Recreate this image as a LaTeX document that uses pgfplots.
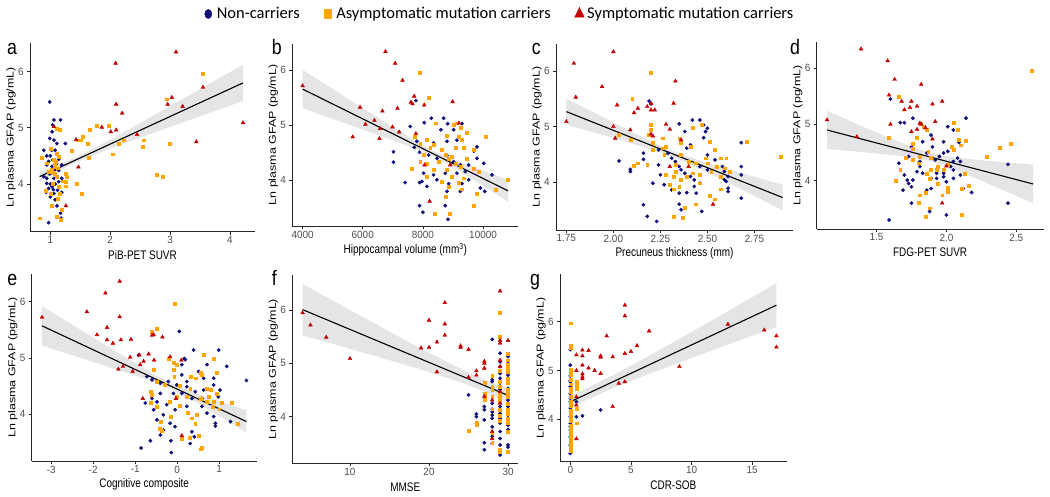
\documentclass[border=0pt]{standalone}
\usepackage{pgfplots}
\pgfplotsset{compat=1.18}
\usepackage{fontspec}
\setmainfont{Liberation Sans}
\newfontfamily\carlito{Carlito}
\definecolor{ncblue}{HTML}{10107A}
\definecolor{asorange}{HTML}{FFA500}
\definecolor{syred}{HTML}{C40000}
\definecolor{ribbon}{HTML}{BDBDBD}
\definecolor{ticklab}{HTML}{4D4D4D}
\pgfplotsset{
  panel/.style={
    scale only axis,
    anchor=south west,
    axis x line*=bottom, axis y line*=left,
    axis line style={-, line width=0.8bp, black!85},
    tick align=outside,
    major tick length=3bp,
    tick style={line width=0.6bp, black!85},
    scaled x ticks=false, scaled y ticks=false,
    /pgf/number format/assume math mode=true,
    /pgf/number format/set thousands separator={},
    tick label style={font=\fontsize{10.5}{11}\selectfont, text=ticklab, xscale=0.95},
    xticklabel style={inner sep=1.5bp},
    every axis x label/.style={at={(axis description cs:0.5,0)}, yshift=-23.5bp, anchor=center, font=\fontsize{12.5}{14}\selectfont, xscale=0.8},
    every axis y label/.style={at={(axis description cs:0,0.5)}, xshift=-19bp, rotate=90, yscale=0.8, anchor=center, font=\fontsize{12.5}{14}\selectfont},
    ylabel={Ln plasma GFAP (pg/mL)},
    ytick={4,5,6},
    clip=false,
  },
  nc/.style={only marks, mark=*, mark size=1.7bp, ncblue, forget plot},
  am/.style={only marks, mark=square*, mark size=1.45bp, asorange, forget plot},
  sm/.style={only marks, mark=triangle*, mark size=2.2bp, syred, forget plot},
  rib/.style={draw=none, fill=ribbon, fill opacity=0.4, forget plot},
  fit/.style={black, line width=1.1bp, no marks, forget plot},
}
\begin{document}
\begin{tikzpicture}
\useasboundingbox (0,0) rectangle (1050bp,497bp);

% ---------------- a ----------------
\begin{axis}[panel, at={(30bp,265.3bp)}, width=225bp, height=188.7bp,
  xmin=0.66, xmax=4.42, ymin=3.15, ymax=6.51, xtick={1,2,3,4},
  xlabel={PiB-PET SUVR},
  legend style={at={(axis description cs:2.089,1.1537)}, anchor=center, draw=none, fill=none,
    font=\carlito\fontsize{16.5}{18}\selectfont, legend columns=3,
    /tikz/every even column/.append style={column sep=22bp}},
  legend cell align=left,
  legend image code/.code={\draw[mark repeat=2,mark phase=2,#1] plot coordinates {(0bp,0bp) (5bp,0bp) (10bp,0bp)};}]
\addlegendimage{only marks, mark=*, mark size=4.6bp, ncblue, mark options={xscale=0.78}}
\addlegendentry{\hspace{3bp}Non-carriers}
\addlegendimage{only marks, mark=square*, mark size=4.4bp, asorange, mark options={xscale=0.85}}
\addlegendentry{\hspace{3bp}Asymptomatic mutation carriers}
\addlegendimage{only marks, mark=triangle*, mark size=6.5bp, syred, mark options={xscale=0.85}}
\addlegendentry{\hspace{1bp}Symptomatic mutation carriers}
\addplot[nc] coordinates {(0.99,5.46) (1.06,5.14) (1.17,5.14) (1.04,5.05) (1.03,4.93) (0.99,4.81) (1.06,4.78) (1.11,4.72) (1.25,4.72) (0.89,4.60) (1.08,4.60) (0.94,4.50) (1.00,4.50) (1.04,4.43) (1.14,4.44) (0.97,4.40) (0.94,4.34) (1.19,4.34) (1.03,4.31) (1.08,4.26) (0.99,4.18) (1.14,4.24) (1.06,4.10) (1.19,4.10) (0.94,4.10) (1.00,4.00) (1.08,4.00) (1.03,3.95) (0.97,3.92) (1.12,3.89) (0.93,3.85) (1.06,3.83) (1.19,3.85) (1.00,3.77) (1.08,3.72) (1.11,3.61) (1.17,3.48) (1.18,3.39) (0.97,3.31) (0.89,4.13) (1.14,4.04) (0.94,4.01) (1.02,4.60) (1.10,4.36) (1.05,3.90)};
\addplot[am] coordinates {(3.55,5.97) (2.95,5.51) (1.78,5.03) (1.98,5.04) (1.66,4.97) (1.54,4.84) (1.50,4.78) (1.45,4.78) (1.62,4.72) (2.14,4.71) (2.22,4.78) (3.00,4.71) (2.55,4.66) (2.56,4.78) (1.36,4.59) (1.64,4.47) (2.04,4.53) (2.77,4.16) (2.88,4.13) (1.44,4.01) (1.53,3.82) (1.25,4.19) (1.28,4.13) (1.25,4.04) (1.25,3.96) (0.82,3.39) (0.86,4.46) (0.92,3.88) (1.02,3.61) (1.18,3.37) (1.11,3.42) (1.19,3.54) (1.00,4.63) (1.06,4.43) (1.08,4.34) (1.03,4.25) (1.07,4.19) (1.11,4.13) (1.04,4.01) (1.14,3.95) (1.13,3.74) (1.16,3.82) (1.00,3.83) (0.97,4.22) (1.10,4.54) (1.16,4.96) (1.10,4.99) (0.94,4.37) (1.14,4.49) (1.07,4.31) (1.09,4.40) (1.12,4.28) (1.05,4.20) (1.20,4.05)};
\addplot[sm] coordinates {(3.10,6.35) (2.09,6.15) (3.55,5.72) (3.03,5.54) (2.96,5.42) (2.10,5.42) (3.21,5.38) (2.20,5.26) (1.86,5.01) (2.10,4.96) (2.01,4.93) (2.45,4.88) (1.43,4.79) (1.06,5.02) (3.44,4.75) (4.22,5.09) (1.47,4.30) (1.26,3.61)};
\addplot[rib] coordinates {(0.82,4.216) (1.1,4.327) (1.45,4.484) (2,4.787) (2.5,5.085) (3,5.385) (3.5,5.688) (4.22,6.124) (4.22,5.476) (3.5,5.204) (3,5.015) (2.5,4.825) (2,4.631) (1.45,4.394) (1.1,4.207) (0.82,4.044)};
\addplot[fit] coordinates {(0.82,4.13) (4.22,5.80)};
\end{axis}

% ---------------- b ----------------
\begin{axis}[panel, at={(292.3bp,271bp)}, width=226bp, height=182bp,
  xmin=3658, xmax=11172, ymin=3.16, ymax=6.47, xtick={4000,6000,8000,10000},
  xticklabels={4000,6000,8000,10000},
  xlabel={Hippocampal volume (mm\textsuperscript{3})}]
\addplot[nc] coordinates {(7767,5.44) (8044,5.04) (8278,5.12) (8689,5.12) (8822,5.02) (9300,5.02) (9022,4.91) (8600,4.91) (7578,4.97) (7022,4.51) (7022,4.32) (7411,3.95) (7711,4.59) (7889,4.50) (8189,4.45) (8467,4.39) (8800,4.44) (9022,4.33) (9244,4.27) (9522,4.27) (9800,4.39) (10022,4.30) (9800,4.60) (9689,4.52) (9411,4.15) (9133,4.12) (8744,4.12) (8356,4.09) (8022,4.12) (7967,3.97) (8467,4.00) (8856,3.93) (9300,3.93) (9522,4.00) (9911,3.85) (10056,3.79) (10300,4.09) (9244,3.79) (8800,3.79) (8133,3.88) (7889,3.95) (7889,3.53) (8000,3.41) (8744,3.53) (8833,3.28) (8800,4.70) (9133,4.72) (8356,4.67) (7800,4.70)};
\addplot[am] coordinates {(7889,5.95) (8189,5.50) (8411,5.03) (9022,5.00) (9133,5.03) (9244,4.94) (10089,4.78) (9467,4.85) (8800,4.80) (9189,4.78) (8133,4.73) (9300,4.73) (7722,4.79) (7911,4.65) (8356,4.64) (9356,4.58) (9689,4.55) (8633,4.55) (8244,4.58) (8022,4.45) (8744,4.45) (8856,4.39) (8967,4.42) (9467,4.39) (7911,4.33) (8522,4.33) (8133,4.30) (9078,4.30) (9244,4.24) (9689,4.21) (9856,4.15) (8356,4.19) (8800,4.18) (7633,4.21) (8967,4.06) (9356,4.03) (8133,4.06) (8633,3.97) (9189,3.94) (9300,3.83) (8856,3.88) (10411,3.82) (9800,3.75) (8744,3.70) (10830,4.00) (9678,3.53) (8378,3.39) (8889,3.38) (9078,4.58)};
\addplot[sm] coordinates {(4000,5.71) (6755,6.33) (7078,6.12) (7322,5.81) (5911,5.32) (7155,5.30) (7711,5.52) (7600,5.41) (7655,5.38) (8044,5.36) (8989,5.42) (6655,5.25) (6389,5.08) (6089,5.01) (6578,4.93) (6555,4.75) (5667,4.78) (6989,4.96) (7211,4.87) (7767,4.84) (9200,5.03) (8222,3.61) (8055,4.27) (8911,4.27)};
\addplot[rib] coordinates {(4000,6.00) (5000,5.652) (6000,5.305) (7000,4.961) (8000,4.629) (8400,4.512) (9000,4.369) (10000,4.166) (10830,4.00) (10830,3.60) (10000,3.894) (9000,4.231) (8400,4.412) (8000,4.511) (7000,4.719) (6000,4.915) (5000,5.108) (4000,5.30)};
\addplot[fit] coordinates {(4000,5.65) (10830,3.80)};
\end{axis}

% ---------------- c ----------------
\begin{axis}[panel, at={(556bp,267bp)}, width=237bp, height=186bp,
  xmin=1.695, xmax=2.955, ymin=3.135, ymax=6.49, xtick={1.75,2,2.25,2.5,2.75},
  xticklabels={1.75,2.00,2.25,2.50,2.75},
  xlabel={Precuneus thickness (mm)}]
\addplot[nc] coordinates {(2.19,5.46) (2.20,5.41) (2.42,5.12) (2.46,5.12) (2.48,5.03) (2.50,4.97) (2.49,4.91) (2.38,4.91) (2.35,5.05) (2.48,4.80) (2.41,4.67) (2.39,4.61) (2.68,4.71) (2.03,4.38) (2.09,4.23) (2.09,4.19) (2.16,4.52) (2.16,4.41) (2.24,4.31) (2.25,4.13) (2.24,4.58) (2.29,4.52) (2.31,4.43) (2.33,4.37) (2.35,4.28) (2.36,4.22) (2.38,4.16) (2.41,4.10) (2.43,4.04) (2.46,4.28) (2.50,4.22) (2.50,4.49) (2.54,4.40) (2.58,4.28) (2.59,4.19) (2.61,4.10) (2.59,4.04) (2.60,4.01) (2.61,3.89) (2.61,3.83) (2.68,4.28) (2.68,4.13) (2.68,3.71) (2.43,3.92) (2.46,3.98) (2.39,3.81) (2.35,3.80) (2.27,3.95) (2.31,3.86) (2.16,3.59) (2.18,3.38) (2.23,3.29) (2.21,3.98) (2.35,3.60) (2.36,3.50) (2.47,3.47) (2.44,3.80)};
\addplot[am] coordinates {(2.20,5.97) (2.10,5.51) (2.20,5.03) (2.20,4.95) (2.19,4.85) (2.03,4.85) (2.09,4.76) (2.11,4.29) (2.18,4.32) (2.21,4.71) (2.21,4.58) (2.26,4.79) (2.28,4.64) (2.26,4.61) (2.27,4.49) (2.35,4.79) (2.36,4.71) (2.36,4.49) (2.41,4.64) (2.42,4.98) (2.47,5.03) (2.51,4.73) (2.54,4.58) (2.57,4.43) (2.60,4.43) (2.71,4.73) (2.89,4.46) (2.49,4.43) (2.50,4.34) (2.44,4.34) (2.40,4.37) (2.33,4.31) (2.33,4.19) (2.32,4.10) (2.36,4.05) (2.39,4.10) (2.42,4.16) (2.46,4.13) (2.52,4.19) (2.55,4.28) (2.59,4.25) (2.62,4.19) (2.57,4.10) (2.46,3.98) (2.51,3.75) (2.54,3.69) (2.57,3.87) (2.30,3.95) (2.32,3.87) (2.35,3.92) (2.38,3.53) (2.32,3.38) (2.37,3.36) (2.44,3.60) (2.13,4.34) (2.28,4.13)};
\addplot[sm] coordinates {(1.75,5.09) (1.79,6.14) (1.80,5.53) (1.94,5.72) (2.00,6.35) (2.02,5.39) (2.00,5.00) (2.01,4.79) (2.13,5.33) (2.11,5.25) (2.18,5.36) (2.20,5.30) (2.22,5.30) (2.20,5.42) (2.09,4.94) (2.20,4.86) (2.21,4.83) (2.28,5.04) (2.30,4.95) (2.33,5.82) (2.32,5.42) (2.36,4.76) (2.30,4.28) (2.40,4.28) (2.53,3.60)};
\addplot[rib] coordinates {(1.75,5.505) (1.9,5.246) (2.05,4.988) (2.2,4.735) (2.33,4.538) (2.5,4.343) (2.65,4.193) (2.75,4.096) (2.9,3.951) (2.9,3.489) (2.75,3.748) (2.65,3.921) (2.5,4.175) (2.33,4.438) (2.2,4.591) (2.05,4.744) (1.9,4.89) (1.75,5.035)};
\addplot[fit] coordinates {(1.75,5.27) (2.9,3.72)};
\end{axis}

% ---------------- d ----------------
\begin{axis}[panel, at={(816.7bp,268bp)}, width=226.8bp, height=187.3bp,
  xmin=1.073, xmax=2.694, ymin=3.14, ymax=6.47, xtick={1.5,2,2.5},
  xticklabels={1.5,2.0,2.5},
  xlabel={FDG-PET SUVR}]
\addplot[nc] coordinates {(1.60,5.45) (1.76,5.11) (2.14,5.11) (1.67,5.03) (1.70,5.03) (2.01,4.96) (2.05,4.90) (2.09,4.68) (1.98,4.69) (1.89,4.81) (1.83,4.69) (1.75,4.60) (1.66,4.31) (1.73,4.43) (1.81,4.34) (1.86,4.49) (1.90,4.60) (1.92,4.37) (1.95,4.43) (1.98,4.49) (2.01,4.52) (2.05,4.34) (2.08,4.40) (2.10,4.34) (2.05,4.19) (2.03,4.25) (1.98,4.13) (1.93,4.13) (1.89,4.04) (1.83,4.13) (1.81,4.25) (1.93,4.04) (1.98,4.07) (2.00,3.98) (2.05,4.04) (2.10,4.10) (2.12,3.86) (2.18,3.79) (1.70,4.10) (1.72,4.01) (1.73,3.95) (1.69,3.83) (1.75,3.89) (1.79,4.16) (1.86,3.83) (1.89,3.86) (1.75,3.60) (1.88,3.45) (2.00,3.39) (1.59,3.30) (2.44,3.60) (2.44,4.29) (1.76,4.01)};
\addplot[am] coordinates {(2.61,5.96) (1.66,5.49) (1.59,4.77) (1.82,5.01) (1.84,4.96) (1.86,4.90) (1.79,4.77) (1.76,4.66) (1.76,4.56) (1.81,4.43) (1.87,4.52) (1.89,4.40) (1.94,4.25) (1.98,4.19) (2.01,4.28) (2.04,4.60) (2.05,5.03) (2.08,4.90) (2.09,4.72) (2.14,4.71) (2.10,4.63) (2.05,4.55) (2.29,4.43) (2.38,4.58) (2.46,4.65) (2.13,4.13) (2.16,3.91) (2.11,3.85) (2.01,3.88) (2.01,3.80) (1.94,3.95) (1.88,4.04) (1.86,4.12) (1.93,4.19) (1.89,4.19) (1.80,4.31) (1.76,4.37) (1.71,4.40) (1.67,4.19) (1.64,4.00) (1.81,3.74) (1.85,3.79) (1.80,3.60) (1.88,3.51) (1.85,3.36) (2.11,3.39) (1.97,3.74)};
\addplot[sm] coordinates {(1.147,5.08) (1.39,6.34) (1.58,6.13) (1.63,5.80) (1.82,5.71) (1.59,5.52) (1.68,5.41) (1.75,5.41) (1.79,5.32) (1.74,5.30) (1.70,5.26) (1.90,5.36) (1.97,5.41) (1.92,5.05) (1.60,5.00) (1.82,5.00) (1.85,4.94) (1.79,4.91) (1.75,4.87) (1.90,4.74) (1.36,4.78) (2.00,4.26) (1.97,3.60) (1.81,5.02)};
\addplot[rib] coordinates {(1.147,5.24) (1.3,5.072) (1.5,4.856) (1.7,4.647) (1.88,4.492) (2.05,4.415) (2.2,4.374) (2.4,4.329) (2.62,4.283) (2.62,3.597) (2.4,3.837) (2.2,4.052) (2.05,4.207) (1.88,4.352) (1.7,4.431) (1.5,4.484) (1.3,4.528) (1.147,4.56)};
\addplot[fit] coordinates {(1.147,4.90) (2.62,3.94)};
\end{axis}

% ---------------- e ----------------
\begin{axis}[panel, at={(31.7bp,36bp)}, width=225bp, height=187bp,
  xmin=-3.465, xmax=1.894, ymin=3.17, ymax=6.49, xtick={-3,-2,-1,0,1},
  xticklabels={-3,-2,-1,0,1},
  xlabel={Cognitive composite}]
\addplot[nc] coordinates {(0.05,5.47) (0.39,5.14) (0.17,4.99) (-0.92,5.05) (0.99,5.14) (1.18,4.85) (1.65,4.60) (0.71,4.88) (0.51,4.76) (0.19,4.97) (0.11,4.88) (0.63,4.64) (0.87,4.64) (0.11,4.70) (-0.60,4.61) (-0.40,4.55) (-0.21,4.58) (-0.01,4.52) (0.23,4.49) (0.43,4.40) (0.63,4.43) (0.87,4.52) (1.02,4.43) (0.98,4.31) (0.59,4.28) (0.35,4.28) (0.11,4.37) (-0.09,4.37) (-0.40,4.37) (-0.60,4.28) (-0.76,4.20) (-0.48,4.22) (-0.25,4.17) (-0.05,4.08) (0.23,4.14) (0.59,4.14) (0.71,4.02) (0.87,3.96) (0.91,3.84) (0.91,3.79) (1.27,3.87) (-0.56,4.08) (-0.33,3.99) (-0.48,3.90) (-0.17,3.84) (-0.05,3.78) (-0.33,3.72) (-0.40,3.63) (-0.64,3.53) (-0.15,3.53) (0.35,3.69) (0.41,3.60) (0.31,3.48) (-0.86,3.40) (-0.14,3.32) (-0.72,4.67) (0.23,4.58)};
\addplot[am] coordinates {(-0.05,5.97) (-0.48,5.52) (-0.60,5.47) (-0.21,4.99) (-0.09,4.91) (-0.01,4.88) (0.63,5.05) (0.87,4.99) (-0.56,4.79) (-0.09,4.79) (0.55,4.73) (0.59,4.70) (0.45,4.64) (0.33,4.67) (-0.07,4.66) (0.95,4.73) (-0.48,4.58) (-0.29,4.52) (0.07,4.50) (0.31,4.46) (0.71,4.46) (0.79,4.43) (0.94,4.37) (0.75,4.31) (0.55,4.28) (0.23,4.31) (-0.01,4.31) (-0.64,4.40) (-0.60,4.34) (0.71,4.22) (0.87,4.22) (1.06,4.20) (1.30,4.21) (0.85,4.14) (0.07,4.15) (-0.17,4.22) (-0.48,4.14) (-0.64,4.20) (0.25,4.02) (0.35,3.93) (0.47,3.99) (0.43,3.84) (-0.15,3.96) (-0.40,3.86) (-0.42,3.75) (-0.37,3.70) (0.11,3.57) (0.29,3.59) (0.51,3.62) (0.55,3.38) (0.59,3.40) (1.44,3.84) (1.00,4.09)};
\addplot[sm] coordinates {(-3.22,5.72) (-1.37,6.36) (-1.71,6.15) (-2.15,5.82) (-1.37,5.73) (-1.91,5.41) (-1.67,5.54) (-1.67,5.32) (-1.53,5.26) (-1.34,5.32) (-1.10,5.33) (-0.60,5.40) (-0.56,5.41) (-0.35,5.37) (-1.12,5.01) (-0.90,5.05) (-0.68,5.07) (-0.55,4.96) (-0.80,4.94) (-0.88,4.88) (-1.29,4.85) (-1.40,4.80) (-1.06,4.76) (-0.17,5.02) (0.10,4.96) (-0.82,4.28) (-0.03,4.28) (0.11,3.62)};
\addplot[rib] coordinates {(-3.22,5.92) (-2.5,5.59) (-2,5.362) (-1.5,5.134) (-1,4.909) (-0.5,4.69) (-0.1,4.534) (0.5,4.358) (1,4.233) (1.65,4.07) (1.65,3.67) (1,3.969) (0.5,4.192) (-0.1,4.434) (-0.5,4.556) (-1,4.685) (-1.5,4.808) (-2,4.928) (-2.5,5.048) (-3.22,5.22)};
\addplot[fit] coordinates {(-3.22,5.57) (1.65,3.87)};
\end{axis}

% ---------------- f ----------------
\begin{axis}[panel, at={(292.3bp,33.7bp)}, width=226bp, height=188.3bp,
  xmin=2.7, xmax=31.3, ymin=3.125, ymax=6.66, xtick={10,20,30},
  xlabel={MMSE}]
\addplot[nc] coordinates {(25,4.41) (26,4.05) (26,4.00) (26,3.88) (27,4.19) (27,4.13) (27,3.94) (27,3.51) (27,3.38) (28,5.45) (28,4.69) (28,4.66) (28,4.25) (28,4.14) (28,4.09) (28,4.03) (28,3.97) (28,3.81) (28,3.63) (28,3.50) (29,5.19) (29,5.03) (29,4.94) (29,4.81) (29,4.72) (29,4.63) (29,4.51) (29,4.38) (29,4.19) (29,4.06) (29,3.97) (29,3.88) (29,3.72) (29,3.59) (29,3.47) (29,3.28) (30,5.13) (30,5.00) (30,4.91) (30,4.78) (30,4.66) (30,4.53) (30,4.44) (30,4.31) (30,4.19) (30,4.03) (30,3.94) (30,3.84) (30,3.76) (30,3.47) (30,3.43)};
\addplot[am] coordinates {(29,5.96) (29,5.51) (28,4.77) (28,4.56) (28,4.50) (28,4.38) (27,4.63) (27,4.44) (27,4.38) (27,4.31) (26,3.88) (26,3.84) (25,3.73) (28,3.70) (28,3.51) (29,4.66) (29,4.56) (29,4.44) (29,4.28) (29,4.13) (29,4.02) (29,3.93) (29,3.38) (29,3.34) (30,5.19) (30,5.06) (30,4.97) (30,4.84) (30,4.72) (30,4.63) (30,4.50) (30,4.38) (30,4.25) (30,4.14) (30,4.06) (30,3.97) (30,3.88) (30,3.72) (30,3.34) (28,4.14) (30,4.90) (30,4.44) (30,4.10) (29,4.87) (29,4.35)};
\addplot[sm] coordinates {(4,5.95) (5,5.72) (7,5.49) (10,5.09) (19,5.29) (20,5.30) (20,5.81) (21,5.40) (21,4.84) (22,6.14) (22,5.74) (22,5.53) (24,5.33) (24,5.30) (25,5.26) (25,4.74) (26,4.86) (26,4.78) (27,5.04) (27,5.00) (27,4.91) (29,6.36) (29,5.43) (29,5.38) (30,5.43) (29,4.47) (29,4.25) (28,4.31) (28,3.59) (28,3.72) (27,4.38) (29,4.94) (29,5.06)};
\addplot[rib] coordinates {(4,6.492) (8,6.165) (12,5.84) (16,5.517) (20,5.2) (24,4.897) (27,4.696) (30,4.525) (30,4.275) (27,4.476) (24,4.647) (20,4.84) (16,5.017) (12,5.19) (8,5.359) (4,5.528)};
\addplot[fit] coordinates {(4,6.01) (30,4.40)};
\end{axis}

% ---------------- g ----------------
\begin{axis}[panel, at={(560bp,35.3bp)}, width=226.7bp, height=187.7bp,
  xmin=-0.85, xmax=17.85, ymin=3.13, ymax=6.98, xtick={0,5,10,15},
  xlabel={CDR-SOB}]
\addplot[nc] coordinates {(0,5.43) (0,5.11) (0,4.89) (0,4.77) (0,4.67) (0,4.53) (0,4.36) (0,4.23) (0,4.05) (0,3.92) (0,3.78) (0,3.64) (0,3.47) (0,3.30) (0.5,4.36) (0.5,4.05) (1,4.07) (2.5,4.19) (0,4.80) (0,4.43) (0,3.85)};
\addplot[am] coordinates {(0,3.35) (0,3.40) (0,3.45) (0,3.52) (0,3.58) (0,3.62) (0,3.68) (0,3.72) (0,3.77) (0,3.82) (0,3.87) (0,3.97) (0,4.02) (0,4.07) (0,4.12) (0,4.17) (0,4.27) (0,4.32) (0,4.37) (0,4.47) (0,4.57) (0,4.62) (0,4.72) (0,4.82) (0,4.92) (0,4.97) (0,5.02) (0,5.46) (0,5.51) (0,5.97) (0.5,4.78) (0.5,4.72) (0.5,4.68) (0.5,4.62) (0.5,4.22) (0.5,3.92)};
\addplot[sm] coordinates {(0.5,5.32) (0.5,5.00) (0.5,4.46) (0.5,4.29) (0.5,3.60) (1,5.42) (1,5.30) (1,5.11) (1,4.93) (1,4.87) (1,4.83) (1.5,5.41) (1.5,5.05) (2,5.00) (2.5,5.27) (2.5,5.30) (2.5,4.94) (3,5.71) (3.5,4.26) (3.5,5.28) (4,4.74) (4.5,6.34) (4.5,6.12) (4.5,5.35) (4.5,4.77) (5,5.39) (5.5,5.51) (6.5,5.81) (9,5.08) (13,5.95) (16,5.83) (17,5.71) (17,5.48)};
\addplot[rib] coordinates {(0,4.487) (1.5,4.655) (4,4.965) (7,5.371) (10,5.791) (13,6.218) (17,6.79) (17,5.89) (13,5.532) (10,5.259) (7,4.981) (4,4.687) (1.5,4.415) (0,4.233)};
\addplot[fit] coordinates {(0,4.36) (17,6.34)};
\end{axis}

% panel letters
\node[anchor=base west, inner sep=0pt, font=\fontsize{21}{21}\selectfont, xscale=0.85] at (7bp,442bp) {a};
\node[anchor=base west, inner sep=0pt, font=\fontsize{21}{21}\selectfont, xscale=0.85] at (271.7bp,442bp) {b};
\node[anchor=base west, inner sep=0pt, font=\fontsize{21}{21}\selectfont, xscale=0.85] at (531.7bp,442bp) {c};
\node[anchor=base west, inner sep=0pt, font=\fontsize{21}{21}\selectfont, xscale=0.85] at (790bp,442bp) {d};
\node[anchor=base west, inner sep=0pt, font=\fontsize{21}{21}\selectfont, xscale=0.85] at (7.3bp,211.5bp) {e};
\node[anchor=base west, inner sep=0pt, font=\fontsize{21}{21}\selectfont, xscale=0.85] at (271.7bp,211.5bp) {f};
\node[anchor=base west, inner sep=0pt, font=\fontsize{21}{21}\selectfont, xscale=0.85] at (530bp,211.5bp) {g};
\end{tikzpicture}
\end{document}
